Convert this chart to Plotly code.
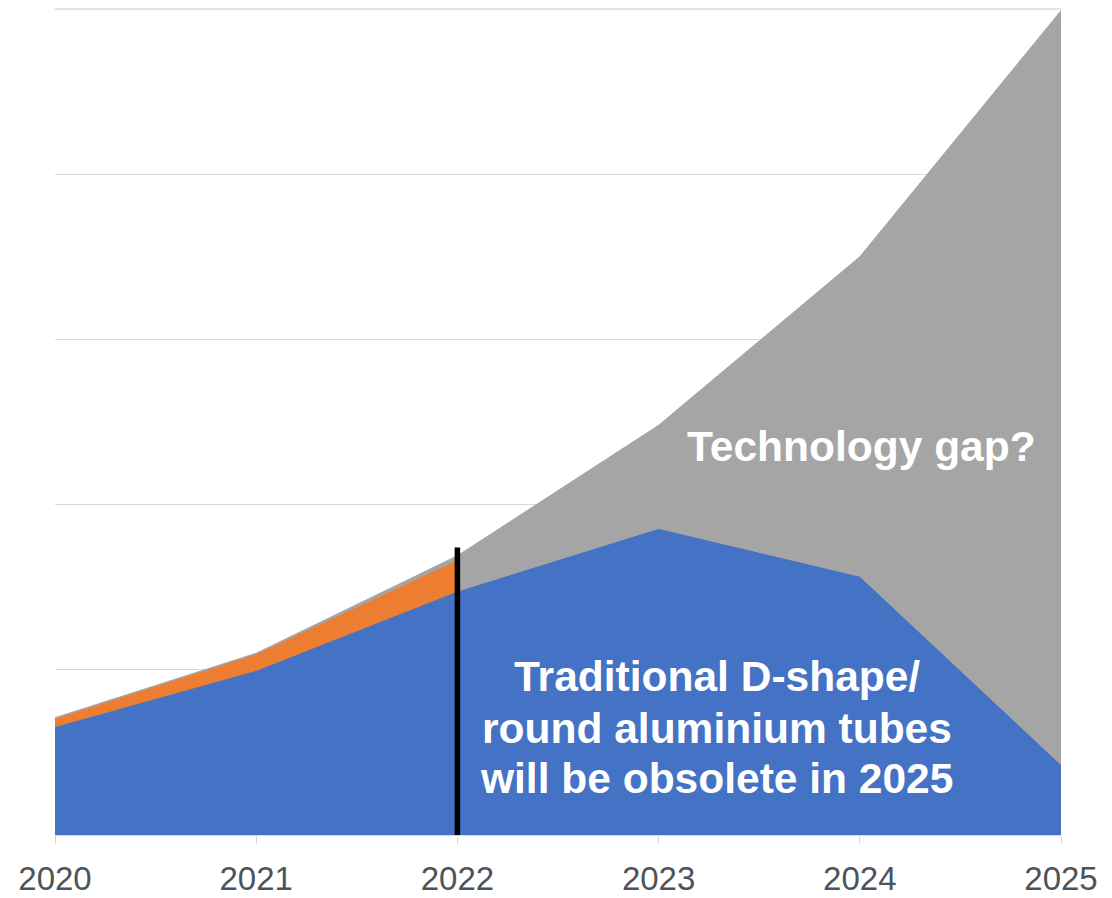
import plotly.graph_objects as go

years = [2020, 2021, 2022, 2023, 2024, 2025]
traditional = [0.65, 0.99, 1.47, 1.85, 1.56, 0.42]
orange_years = [2020, 2021, 2022]
orange_vals = [0.05, 0.10, 0.19]
gap_vals = [0.01, 0.01, 0.03, 0.63, 1.94, 4.57]
divider_year = 2022
divider_top = 1.74
blue_text_lines = ["Traditional D-shape/", "round aluminium tubes", "will be obsolete in 2025"]
blue_text_y = [0.962, 0.642, 0.34]
y_max = 5

orange_full = orange_vals + [0] * (len(years) - len(orange_vals))
total = [b + o + g for b, o, g in zip(traditional, orange_full, gap_vals)]
orange_top = [traditional[i] + orange_vals[i] for i in range(len(orange_vals))]

BLUE = "#4472C4"
ORANGE = "#ED7D31"
GRAY = "#A5A5A5"
GRID = "#D9D9D9"
FONT = "Liberation Sans, Arial"

fig = go.Figure()
fig.add_trace(go.Scatter(x=years, y=total, mode="lines", fill="tozeroy",
                         fillcolor=GRAY, line=dict(color=GRAY, width=1),
                         hoverinfo="skip", showlegend=False))
fig.add_trace(go.Scatter(x=orange_years, y=orange_top, mode="lines", fill="tozeroy",
                         fillcolor=ORANGE, line=dict(color=ORANGE, width=1),
                         hoverinfo="skip", showlegend=False))
fig.add_trace(go.Scatter(x=years, y=traditional, mode="lines", fill="tozeroy",
                         fillcolor=BLUE, line=dict(color=BLUE, width=1),
                         hoverinfo="skip", showlegend=False))

fig.add_shape(type="line", x0=0, x1=1, xref="paper", y0=y_max, y1=y_max, yref="y",
              line=dict(color=GRID, width=1.5), layer="below")
fig.add_shape(type="line", x0=divider_year, x1=divider_year, y0=0, y1=divider_top,
              xref="x", yref="y", line=dict(color="black", width=5.5), layer="above")

fig.add_annotation(x=2024.01, y=2.35, xref="x", yref="y", text="<b>Technology gap?</b>",
                   showarrow=False, font=dict(family=FONT, size=42.5, color="white"))
for line, yv in zip(blue_text_lines, blue_text_y):
    fig.add_annotation(x=2023.29, y=yv, xref="x", yref="y", text="<b>" + line + "</b>",
                       showarrow=False, font=dict(family=FONT, size=42.5, color="white"))

fig.update_layout(
    width=1112, height=898,
    margin=dict(l=55, r=51, t=8, b=63),
    paper_bgcolor="white", plot_bgcolor="white",
    xaxis=dict(range=[2020, 2025], tickmode="array", tickvals=years,
               ticktext=[str(y) for y in years], showgrid=False, zeroline=False,
               showline=True, linecolor=GRID, linewidth=1, automargin=False,
               ticks="outside", ticklen=8, tickcolor=GRID, ticklabelstandoff=6,
               tickfont=dict(family=FONT, size=33, color="#4D535A")),
    yaxis=dict(range=[0, 5.006], tickvals=[1, 2, 3, 4], showticklabels=False, showgrid=True,
               gridcolor=GRID, gridwidth=1, zeroline=False, showline=False,
               automargin=False),
)

fig.write_html("out.html")
